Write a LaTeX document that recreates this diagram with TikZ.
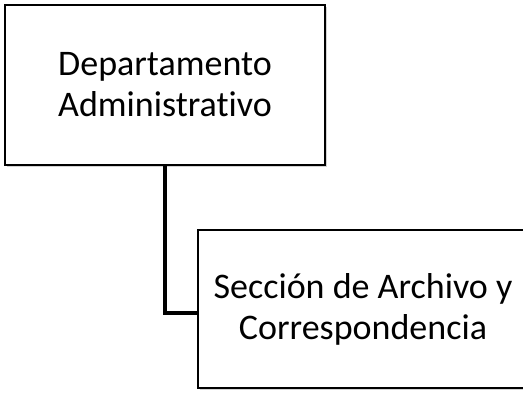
\documentclass[tikz,border=0pt]{standalone}
\usepackage{fontspec}
\setmainfont[Ligatures=NoCommon]{Carlito}
\usetikzlibrary{positioning,shadows}

\begin{document}
\begin{tikzpicture}[
  obox/.style={draw,line width=1.1pt,fill=white,align=center,
               font=\fontsize{36}{41}\selectfont,
               drop shadow={shadow xshift=2pt,shadow yshift=-2pt,opacity=0.35}},
  link/.style={line width=4pt}
]
  \useasboundingbox (0,0) rectangle (523pt,-392pt);
  \node[obox,minimum width=320pt,minimum height=160pt] (dept) at (165pt,-85pt)
    {Departamento\\Administrativo};
  \node[obox,minimum width=330pt,minimum height=158pt] (arch) at (363pt,-309pt)
    {Sección de Archivo y\\Correspondencia};
  \draw[link] (dept.south) |- ([yshift=-4pt]arch.west);
\end{tikzpicture}
\end{document}
